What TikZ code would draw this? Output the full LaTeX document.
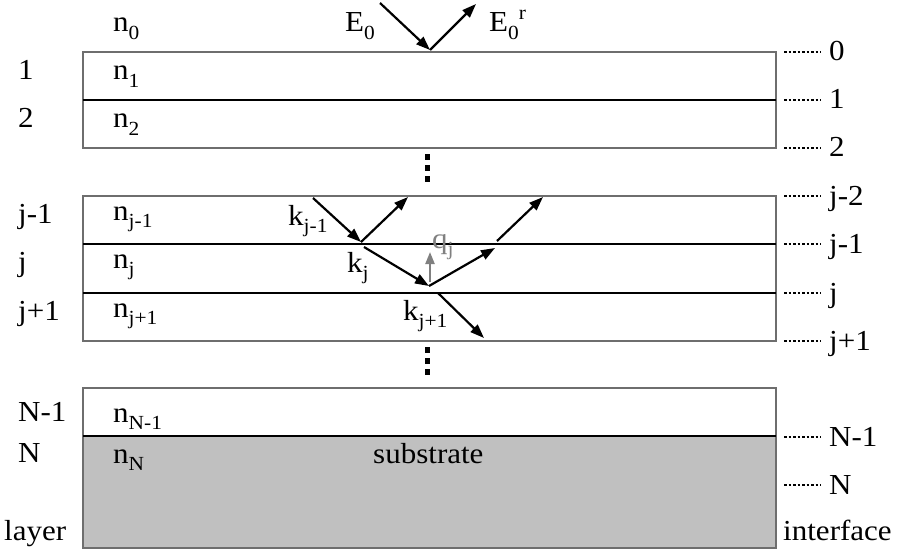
\documentclass[tikz,border=0pt]{standalone}
\usepackage{fontspec}
\setmainfont[FakeStretch=1.07]{Liberation Serif}
\usetikzlibrary{arrows.meta}
\definecolor{framegrey}{RGB}{110,110,110}
\definecolor{subgrey}{RGB}{192,192,192}
\definecolor{qgrey}{RGB}{128,128,128}
\newcommand\lowr[1]{\raisebox{-0.27em}{\fontsize{20}{20}\selectfont#1}}
\newcommand\highr[1]{\raisebox{0.42em}{\fontsize{20}{20}\selectfont#1}}
\begin{document}
\begin{tikzpicture}[x=1pt,y=-1pt,
  every node/.style={font=\fontsize{29}{32}\selectfont,inner sep=0pt},
  lbl/.style={anchor=base west},
  frame/.style={draw=framegrey,line width=1.5pt},
  iface/.style={draw=black,line width=2.4pt},
  leader/.style={line width=2.8pt,dash pattern=on 2.6pt off 1.9pt},
  ray/.style={-{Triangle[length=14pt,width=10pt]},line width=2.2pt},
  qray/.style={-{Triangle[length=12pt,width=9pt]},line width=2.2pt,qgrey}]
\useasboundingbox (0,0) rectangle (901,556);
\fill[subgrey] (83,436) rectangle (776,548);
\draw[frame] (83,52) rectangle (776,148);
\draw[frame] (83,196) rectangle (776,341);
\draw[frame] (83,388) rectangle (776,548);
\foreach \y in {100,244,293,436} \draw[iface] (83,\y) -- (776,\y);
\foreach \y in {157,168,179,350,361,372} \fill (424.5,\y-3) rectangle ++(5.5,6);
\foreach \y/\t [count=\i] in {80/1,128/2,223/j-1,271/j,320/j+1,421/N-1,462/N}
  \node[lbl] (lay\i) at (18,\y) {\t};
\node[lbl] (layer) at (4,540) {layer};
\foreach \y/\t [count=\i] in {32/0,80/1,128/2,220/j-1,268/j,317/j+1,422/N-1,463/N}
  \node[lbl] (n\i) at (113,\y) {n\lowr{\t}};
\foreach \y/\t [count=\i] in {52/0,100/1,148/2,196/j-2,244/j-1,293/j,341/j+1,437/N-1,485/N}{
  \coordinate (d\i) at (784,\y);
  \node[lbl] (if\i) at (829,\y+9) {\t};
  \draw[leader] (d\i) -- ++(37,0);
}
\node[lbl] (interface) at (783,540) {interface};
\node[lbl] (sub) at (373,463) {substrate};
\node[lbl] (e0) at (345,32) {E\lowr{0}};
\node[lbl] (e0r) at (489,32) {E\lowr{0}\highr{r}};
\node[lbl] (kjm) at (288,225) {k\lowr{j-1}};
\node[lbl] (kj) at (347,272) {k\lowr{j}};
\node[lbl] (kjp) at (403,320) {k\lowr{j+1}};
\node[lbl,text=qgrey] (qj) at (432,248) {q\lowr{j}};
\coordinate (a0) at (380,3);
\coordinate (p0) at (430,50);
\coordinate (r0) at (476,4);
\coordinate (a1) at (313,198);
\coordinate (p1) at (361,242);
\coordinate (r1) at (408,197);
\coordinate (t1) at (364,247);
\coordinate (p2) at (429,286);
\coordinate (r2) at (495,248);
\coordinate (t2) at (497,241);
\coordinate (r3) at (543,197);
\coordinate (t3) at (438,293);
\coordinate (b3) at (484,338);
\coordinate (q0) at (430,282);
\coordinate (q1) at (430,252);
\foreach \s/\e in {a0/p0,p0/r0,a1/p1,p1/r1,t1/p2,p2/r2,t2/r3,t3/b3}
  \draw[ray] (\s) -- (\e);
\draw[qray] (q0) -- (q1);
\end{tikzpicture}
\end{document}
